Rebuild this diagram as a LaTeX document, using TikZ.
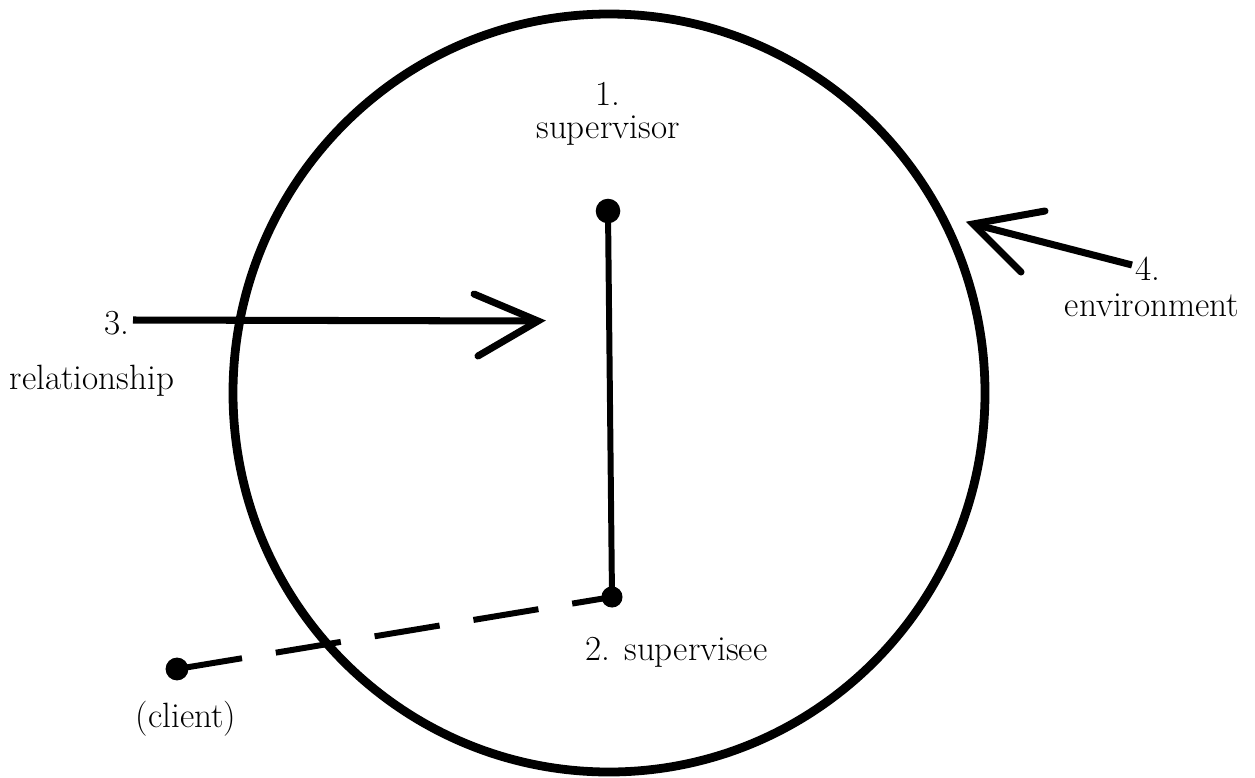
\documentclass[tikz,border=0pt]{standalone}
\begin{document}
\begin{tikzpicture}[x=0.02cm,y=-0.02cm,
  lbl/.style={inner sep=0pt,font=\fontsize{20}{22}\selectfont},
  dot/.style={circle,fill=black,inner sep=0pt,minimum size=#1},
  thickline/.style={line width=4pt,line cap=butt,line join=miter},
]
\useasboundingbox (0,0) rectangle (1255,778);
% circle (environment boundary)
\draw[line width=5pt] (609,393) ellipse [x radius=376, y radius=379];
% nodes
\node[dot=14pt] (sup) at (608,211) {};
\node[dot=12pt] (see) at (612,597) {};
\node[dot=13pt] (cli) at (177,669) {};
\draw[line width=3.4pt] (sup.center) -- (see.center);
\draw[line width=3.4pt,dash pattern=on 37.5pt off 19.5pt] (cli.center) -- (see.center);
% labels
\node[lbl] (l1) at (608,94) {1.};
\node[lbl] (l1b) at (608,131) {supervisor};
\node[lbl,anchor=west] (l2) at (585,652) {2. supervisee};
\node[lbl] (lc) at (186,719) {(client)};
\node[lbl] (l3) at (117,323) {3.};
\node[lbl] (l3b) at (92,381) {relationship};
\node[lbl] (l4) at (1148,269) {4.};
\node[lbl] (l4b) at (1152,305) {environment};
% arrow 3
\coordinate (a3s) at (133,320);
\coordinate (a3t) at (538,321);
\coordinate (a3u) at (474,294);
\coordinate (a3l) at (478,356);
\draw[thickline] (a3s) -- (a3t);
\draw[thickline,line cap=round] (a3u) -- (a3t) -- (a3l);
% arrow 4
\coordinate (a4s) at (1132,265);
\coordinate (a4t) at (973,224);
\coordinate (a4u) at (1045,211);
\coordinate (a4l) at (1021,272);
\draw[thickline] (a4s) -- (a4t);
\draw[thickline,line cap=round] (a4u) -- (a4t) -- (a4l);
\end{tikzpicture}
\end{document}
